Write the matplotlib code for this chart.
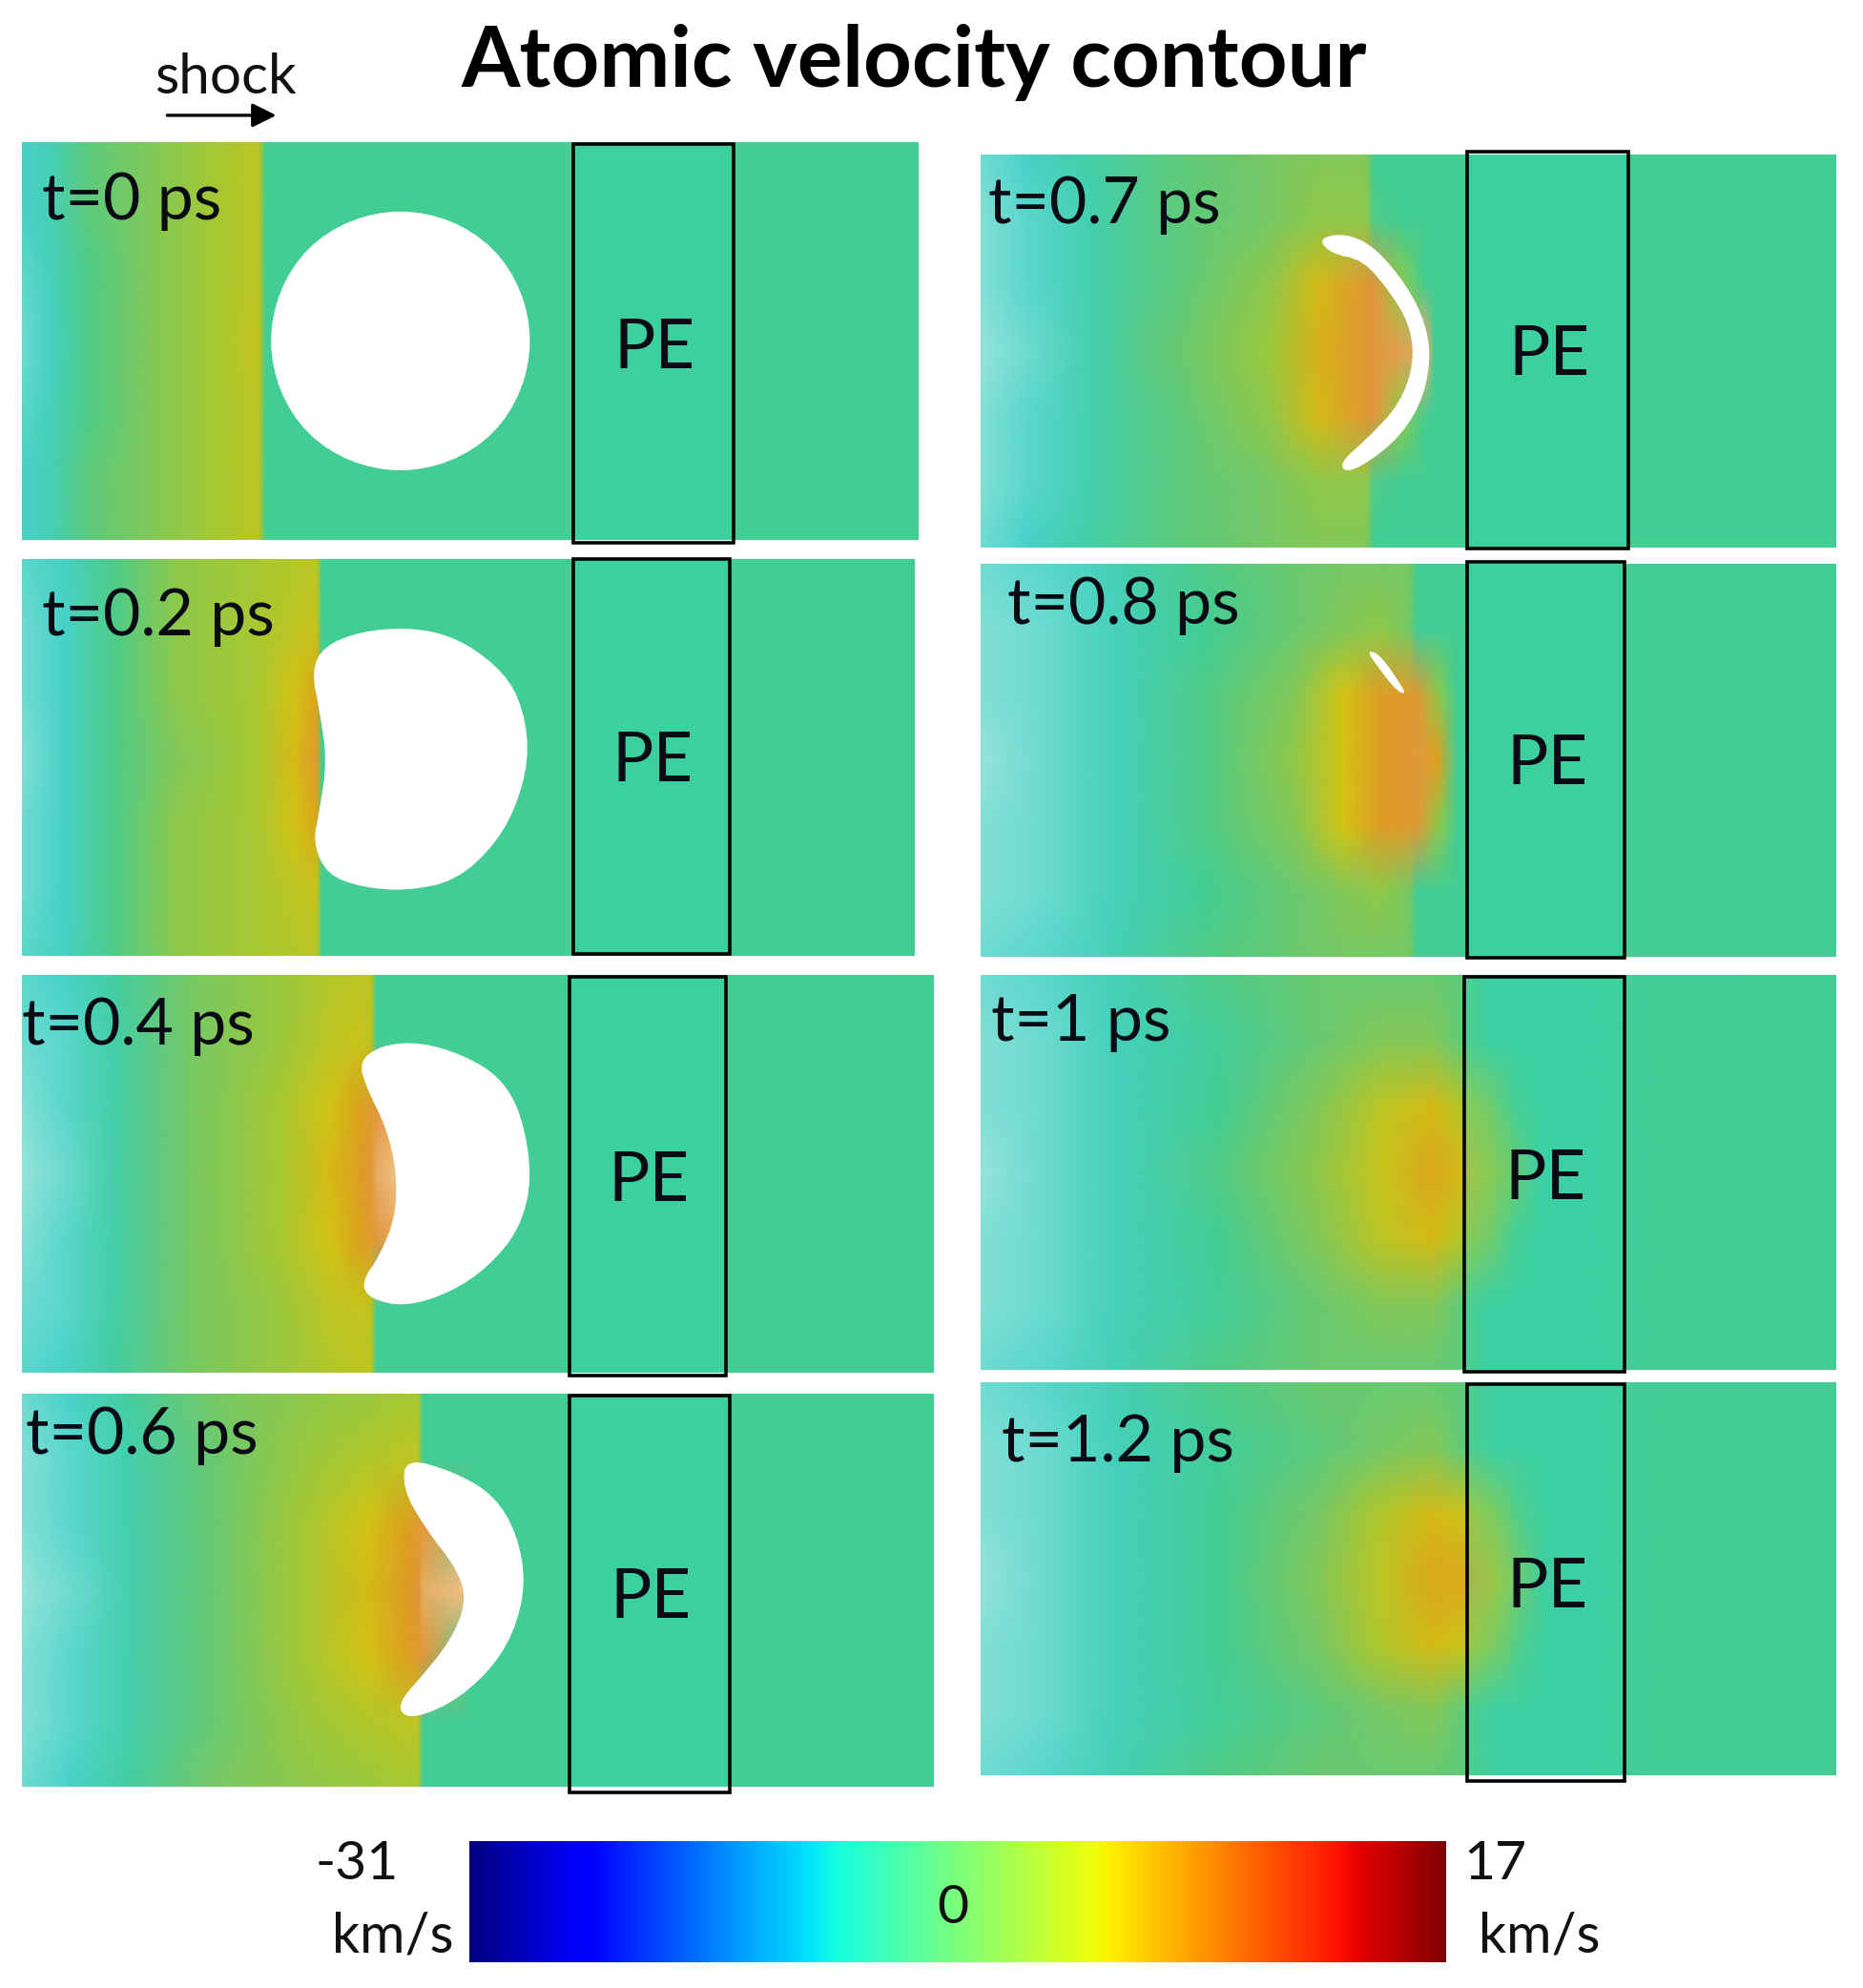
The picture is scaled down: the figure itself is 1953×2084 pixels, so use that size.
import matplotlib
matplotlib.use("Agg")
import matplotlib.pyplot as plt
import numpy as np
from matplotlib.cm import ScalarMappable
from matplotlib.colors import LinearSegmentedColormap, Normalize, TwoSlopeNorm
from matplotlib.patches import Rectangle

plt.rcParams["font.family"] = ["Lato", "DejaVu Sans"]

# velocity read off each frame, km/s. rows go edge -> middle of the sample, the
# lower half mirrors the upper one. white voids are outlines.
labels = ["t=0 ps", "t=0.2 ps", "t=0.4 ps", "t=0.6 ps",
          "t=0.7 ps", "t=0.8 ps", "t=1 ps", "t=1.2 ps"]

x_t00 = [17, 40, 70, 120, 170, 204, 210, 725]
v_t00 = [[-4, -2.5, 1, 2.5, 4, 5, 0, 0],
         [-4, -2.5, 1, 2.5, 4, 5, 0, 0],
         [-4.5, -3, 0.5, 2.5, 4, 5, 0, 0],
         [-5, -3.5, 0.5, 2.5, 4, 5.5, 0, 0]]
void_t00 = [(420, 269), (412, 229), (390, 195), (356, 173), (316, 165), (276, 173),
            (242, 195), (220, 229), (212, 269), (220, 309), (242, 343), (276, 365),
            (316, 373), (356, 365), (390, 343), (412, 309)]

x_t02 = [17, 50, 90, 140, 200, 232, 250, 254, 722]
v_t02 = [[-4.5, -3.5, 0.5, 3, 4, 4.5, 5, 0, 0],
         [-5, -4, 0.5, 3, 4, 5, 5.5, 0, 0],
         [-5, -4, 0.5, 3, 4, 6, 7.5, 0, 0],
         [-5.5, -4, 0.5, 2.5, 4, 6.5, 9, 0, 0]]
void_t02 = [(418, 590), (410, 550), (392, 525), (360, 503), (325, 495), (285, 498),
            (255, 510), (246, 530), (252, 560), (258, 600), (252, 640), (247, 665),
            (258, 690), (285, 700), (320, 703), (360, 695), (392, 665), (410, 630)]

x_t04 = [17, 50, 90, 150, 220, 260, 285, 293, 297, 316, 322, 737]
v_t04 = [[-4.5, -4, -1, 2, 3.5, 4.5, 5, 5, 0, 0, 0, 0],
         [-5, -4.5, -1.5, 2, 3.5, 5, 5.5, 5, 0, 0, 0, 0],
         [-5.5, -4.5, -1.5, 2, 4, 6, 8, 9, 10, 11, 0, 0],
         [-6, -5, -1.5, 2, 4, 6.5, 8.5, 9.5, 11, 12, 0, 0]]
void_t04 = [(420, 930), (412, 880), (395, 850), (365, 832), (330, 822), (300, 825),
            (283, 838), (290, 860), (305, 890), (313, 925), (312, 960), (300, 990),
            (285, 1012), (292, 1025), (320, 1031), (355, 1020), (385, 1000), (410, 970)]

x_t06 = [17, 55, 100, 170, 240, 290, 320, 330, 334, 372, 380, 737]
v_t06 = [[-5, -4, -1, 2, 3, 3.5, 4, 4, 0, 0, 0, 0],
         [-5.5, -4.5, -2, 1.5, 3.5, 4.5, 5, 5, 0, 0, 0, 0],
         [-5.5, -4.5, -2, 1.5, 4, 6, 8, 9, 10, 0, 0, 0],
         [-6, -5, -2, 1.5, 4, 6.5, 8.5, 9.5, 11, 12, 0, 0]]
void_t06 = [(415, 1250), (408, 1210), (390, 1180), (360, 1162), (320, 1150), (318, 1175),
            (335, 1205), (362, 1240), (368, 1265), (355, 1295), (335, 1320), (313, 1345),
            (322, 1357), (355, 1345), (385, 1320), (405, 1290)]

x_t07 = [774, 810, 860, 930, 1000, 1040, 1078, 1084, 1105, 1126, 1132, 1449]
v_t07 = [[-5, -4, -1.5, 1, 2, 2.5, 2.5, 0, 0, 0, 0, 0],
         [-5.5, -4.5, -2, 1, 2, 3, 3, 0.5, 0, 0, 0, 0],
         [-5.5, -4.5, -2, 1, 3, 6.5, 9.5, 10, 3, 0, 0, 0],
         [-6, -5, -2, 1.5, 3.5, 7, 9.5, 10, 10.5, 11, 0, 0]]
void_t07 = [(1040, 188), (1062, 184), (1085, 195), (1110, 225), (1125, 255), (1129, 285),
            (1121, 320), (1100, 350), (1065, 374), (1056, 366), (1080, 345), (1105, 318),
            (1116, 285), (1112, 255), (1095, 228), (1075, 205), (1050, 200)]

x_t08 = [774, 820, 880, 950, 1020, 1060, 1090, 1112, 1118, 1135, 1150, 1449]
v_t08 = [[-5, -4.5, -2.5, 0.5, 1.5, 2, 2, 2, 0, 0, 0, 0],
         [-5.5, -5, -3, 0, 1.5, 2.5, 3, 2, 0, 0, 0, 0],
         [-5.5, -5, -3, 0.5, 2.5, 6, 8.5, 9, 9.5, 3, 0, 0],
         [-6, -5, -3, 0.5, 3, 6, 8.5, 9.5, 10, 8, 0, 0]]
void_t08 = [(1078, 513), (1088, 516), (1100, 532), (1110, 548), (1102, 545), (1090, 530)]

x_t10 = [774, 820, 880, 960, 1040, 1090, 1130, 1155, 1175, 1195, 1215, 1449]
v_t10 = [[-5, -4.5, -2.5, 0.5, 1.5, 1.5, 1.5, 1, -0.5, -0.5, -0.5, 0],
         [-5.5, -5, -3, -0.5, 1.5, 2.5, 2.5, 1, -0.5, -0.5, -0.5, 0],
         [-5.5, -5, -3, 0, 2.5, 5, 6.5, 4.5, 3, 0.5, -0.5, 0],
         [-6, -5, -3, 0.5, 3, 5.5, 7.5, 6.5, 4.5, 2.5, -0.5, 0]]

x_t12 = [774, 820, 880, 960, 1040, 1090, 1130, 1158, 1180, 1200, 1220, 1449]
v_t12 = [[-5, -4.5, -2.5, 0.5, 1.5, 1.5, 1.5, 1, -0.5, -0.5, -0.5, 0],
         [-5.5, -5, -3, -0.5, 1, 2, 2.5, 1, -0.5, -0.5, -0.5, 0],
         [-5.5, -5, -3, 0, 2, 4.5, 6.5, 5.5, 3.5, 1, -0.5, 0],
         [-6, -5, -3, 0, 2.5, 5, 7.5, 7.5, 5.5, 2.5, -0.5, 0]]

frames_x = [x_t00, x_t02, x_t04, x_t06, x_t07, x_t08, x_t10, x_t12]
frames_v = [v_t00, v_t02, v_t04, v_t06, v_t07, v_t08, v_t10, v_t12]
voids = [void_t00, void_t02, void_t04, void_t06, void_t07, void_t08, None, None]

bar_min = -31
bar_zero = 0
bar_max = 17

# layout, all in a 1470 wide frame of the picture
W, H = 1470.0, 2084 * 1470.0 / 1953
panels = [(17, 725, 112, 426), (17, 722, 441, 754), (17, 737, 769, 1083), (17, 737, 1100, 1410),
          (774, 1449, 122, 432), (774, 1449, 445, 755), (774, 1449, 769, 1081), (774, 1449, 1091, 1401)]
pe_boxes = [(452, 579, 114, 428), (452, 576, 441, 753), (449, 573, 771, 1085), (449, 576, 1101, 1414),
            (1158, 1285, 120, 433), (1158, 1282, 443, 756), (1155, 1282, 771, 1082), (1158, 1282, 1092, 1405)]
label_pos = [(33, 159), (33, 487), (17, 810), (20, 1133), (780, 162), (795, 478), (782, 807), (790, 1139)]


def fx(x):
    return x / W


def fy(y):
    return 1 - y / H


def round_outline(points, passes=2):
    # corner cutting so the void edges don't look like polygons
    pts = np.array(points, dtype=float)
    for _ in range(passes):
        nxt = np.roll(pts, -1, axis=0)
        pts = np.column_stack([0.75 * pts + 0.25 * nxt, 0.25 * pts + 0.75 * nxt]).reshape(-1, 2)
    return pts


# atoms in the frames are shaded darker than the bar, so they get their own map
stops = [(-6, "#96E4DA"), (-4, "#46D2C8"), (0, "#42CD94"), (2, "#78C864"), (4, "#A5C832"),
         (6, "#D2C314"), (8, "#DCA01E"), (10, "#E1963C"), (12, "#EEC38C")]
norm = Normalize(-6, 12)
atom_cmap = LinearSegmentedColormap.from_list("atoms", [(norm(v), c) for v, c in stops])

fig = plt.figure(figsize=(19.53, 20.84), dpi=100)

for i in range(8):
    x0, x1, y0, y1 = panels[i]
    ax = fig.add_axes([fx(x0), fy(y1), fx(x1 - x0), (y1 - y0) / H])
    rows = frames_v[i]
    v = np.array(rows + [rows[2], rows[1], rows[0]])
    y = np.linspace(y0, y1, 7)
    ax.pcolormesh(frames_x[i], y, v, shading="gouraud", cmap=atom_cmap, norm=norm)
    if voids[i] is not None:
        outline = round_outline(voids[i])
        ax.fill(outline[:, 0], outline[:, 1], color="white", lw=0)
    ax.set_xlim(x0, x1)
    ax.set_ylim(y1, y0)
    ax.axis("off")

    bx0, bx1, by0, by1 = pe_boxes[i]
    ax.add_patch(Rectangle((bx0, y0), bx1 - bx0, y1 - y0, fc="#32D7B9", alpha=0.3, lw=0))
    ax.add_patch(Rectangle((bx0, by0), bx1 - bx0, by1 - by0, fc="none", ec="black", lw=2.6, clip_on=False))
    ax.text((bx0 + bx1) / 2 + 1, (by0 + by1) / 2 + 4, "PE", fontsize=52, color="#0a0a14", ha="center", va="center",
            clip_on=False)
    fig.text(fx(label_pos[i][0]), fy(label_pos[i][1]), labels[i], fontsize=49, color="#0a0a14",
             ha="left", va="center")

fig.text(fx(721), fy(49), "Atomic velocity contour", fontsize=63.7, fontweight="bold", ha="center", va="center")
fig.text(fx(178), fy(61), "shock", fontsize=42, color="#111111", ha="center", va="center")

overlay = fig.add_axes([0, 0, 1, 1])
overlay.set_xlim(0, W)
overlay.set_ylim(H, 0)
overlay.axis("off")
overlay.patch.set_alpha(0)
overlay.annotate("", xy=(218, 91), xytext=(132, 91),
                 arrowprops=dict(arrowstyle="-|>", color="black", lw=2.4, mutation_scale=38,
                                 shrinkA=0, shrinkB=0))

cax = fig.add_axes([fx(370), fy(1548), fx(771), 95 / H])
bar_norm = TwoSlopeNorm(vmin=bar_min, vcenter=bar_zero, vmax=bar_max)
cb = fig.colorbar(ScalarMappable(norm=bar_norm, cmap="jet"), cax=cax, orientation="horizontal")
cb.set_ticks([])
cb.minorticks_off()
cb.outline.set_visible(False)

fig.text(fx(249), fy(1471), str(bar_min), fontsize=41, ha="left", va="center", color="#111111")
fig.text(fx(262), fy(1528), "km/s", fontsize=41.5, ha="left", va="center", color="#111111")
fig.text(fx(1155), fy(1471), str(bar_max), fontsize=41, ha="left", va="center", color="#111111")
fig.text(fx(1167), fy(1528), "km/s", fontsize=41.5, ha="left", va="center", color="#111111")
fig.text(fx(752), fy(1506), str(bar_zero), fontsize=41, ha="center", va="center", color="#111111")

fig.savefig("out.png", dpi=100)
